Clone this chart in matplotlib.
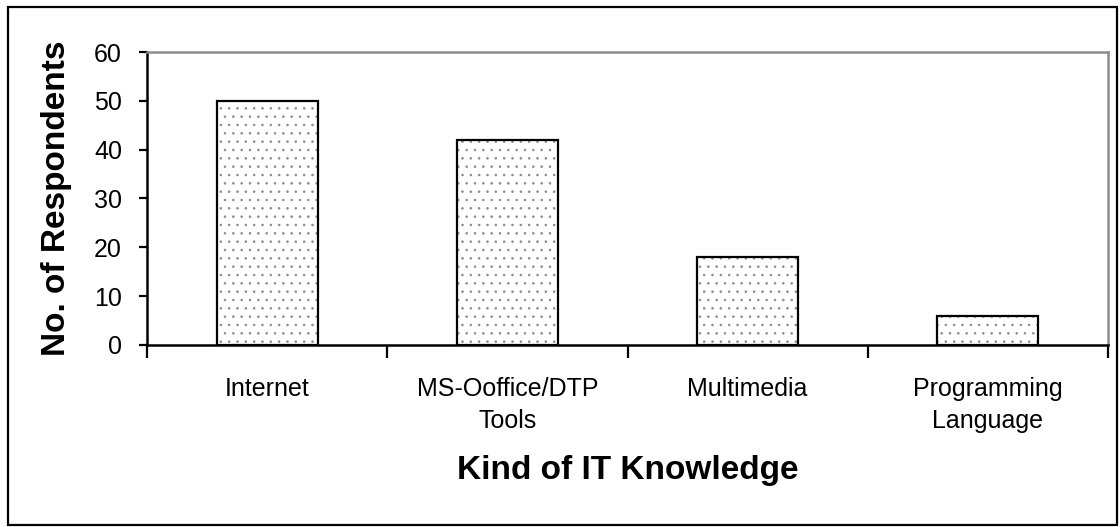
import matplotlib
matplotlib.use('Agg')
import matplotlib.pyplot as plt
from matplotlib.patches import Rectangle
import numpy as np

plt.rcParams['font.family'] = ['Liberation Sans', 'DejaVu Sans']
plt.rcParams['hatch.color'] = '#8a8a8a'
plt.rcParams['hatch.linewidth'] = 0.6

categories = ['Internet', 'MS-Ooffice/DTP\nTools', 'Multimedia', 'Programming\nLanguage']
respondents = [50, 42, 18, 6]
y_ticks = [0, 10, 20, 30, 40, 50, 60]

fig = plt.figure(figsize=(11.2, 5.27), dpi=100)
ax = fig.add_axes([0.1313, 0.3454, 0.8580, 0.5559])

x = np.arange(len(categories))
# dotted fill, then black outline on top
ax.bar(x, respondents, width=0.42, color='white', hatch='..', edgecolor='#8a8a8a', linewidth=0, zorder=2)
ax.bar(x, respondents, width=0.42, fill=False, edgecolor='black', linewidth=1.6, zorder=3)

ax.set_xlim(-0.5, 3.5)
ax.set_ylim(0, 60)
ax.set_yticks(y_ticks)
ax.tick_params(axis='y', direction='out', length=6, width=1.6, labelsize=18, pad=12)

# ticks between categories, labels centred under bars
ax.set_xticks(np.arange(-0.5, 4, 1))
ax.set_xticklabels([])
ax.tick_params(axis='x', which='major', direction='out', length=9, width=1.6)
ax.set_xticks(x, minor=True)
ax.set_xticklabels(categories, minor=True, fontsize=18, linespacing=1.45)
ax.tick_params(axis='x', which='minor', length=0, pad=23)

ax.spines['left'].set_linewidth(1.8)
ax.spines['bottom'].set_linewidth(1.8)
for s in ['top', 'right']:
    ax.spines[s].set_color('#8c8c8c')
    ax.spines[s].set_linewidth(1.8)

ax.set_ylabel('No. of Respondents', fontsize=24, fontweight='bold')
ax.yaxis.set_label_coords(-0.078, 0.5)
ax.set_xlabel('Kind of IT Knowledge', fontsize=24, fontweight='bold')
ax.xaxis.set_label_coords(0.5, -0.375)

# outer chart frame
fig.patches.append(Rectangle((0.0075, 0.003), 0.99, 0.984, transform=fig.transFigure,
                             fill=False, edgecolor='black', linewidth=1.6))

fig.savefig('out.png', dpi=100)
